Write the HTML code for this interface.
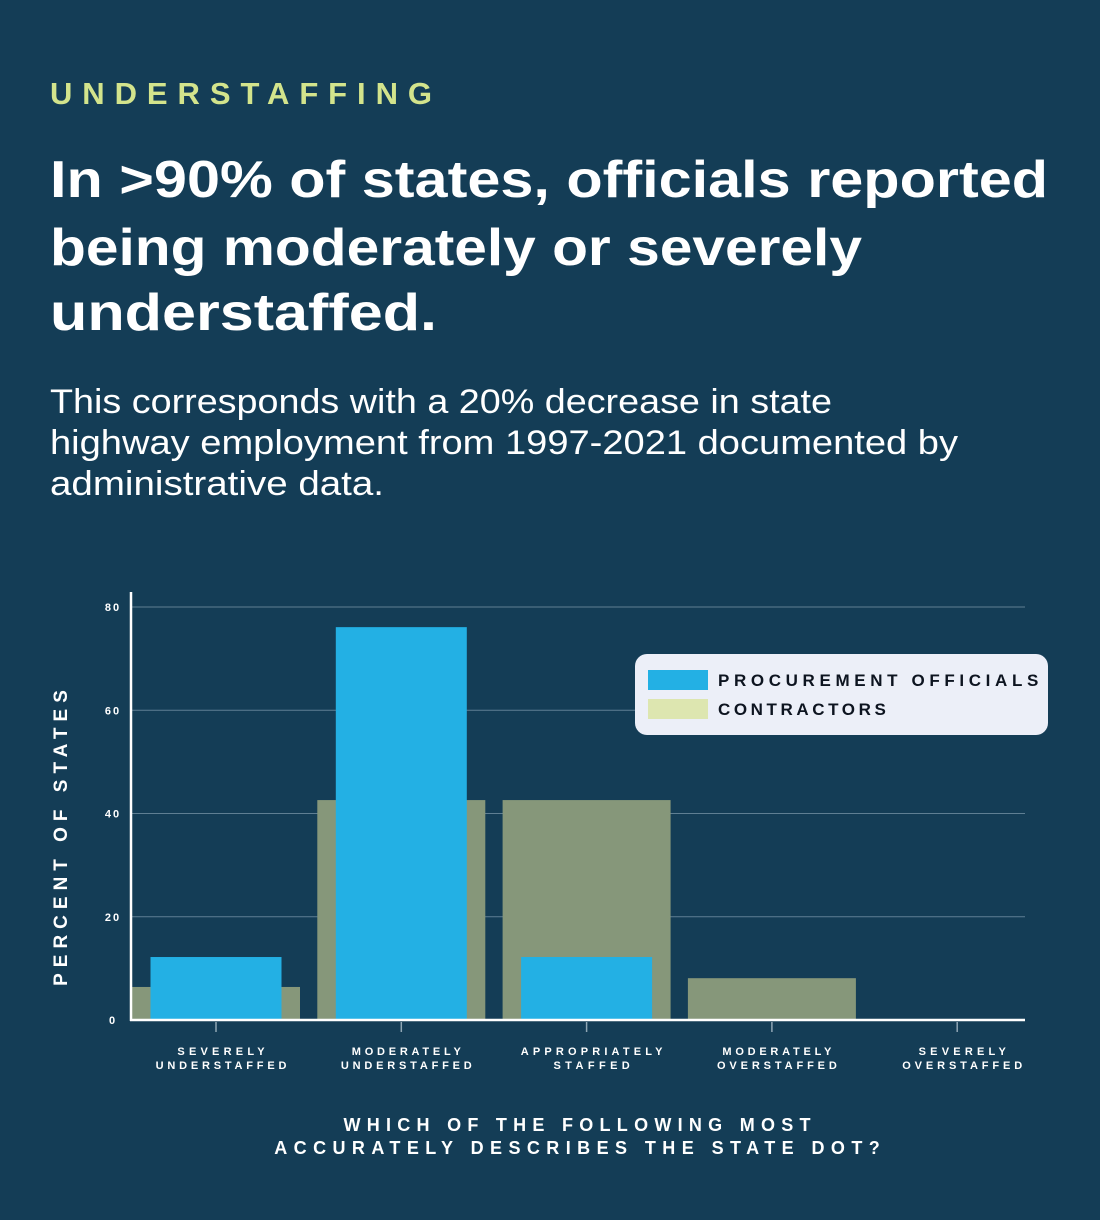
<!DOCTYPE html>
<html><head><meta charset="utf-8"><style>
html,body{margin:0;padding:0;background:#143d56;}
svg{display:block;font-family:"Liberation Sans",sans-serif;}
</style></head><body>
<svg id="chart" width="1100" height="1220" viewBox="0 0 1100 1220">
<rect width="1100" height="1220" fill="#143d56"/>
<text x="50" y="104" font-size="31" font-weight="bold" fill="#d3e48c" textLength="382" lengthAdjust="spacing">UNDERSTAFFING</text>
<g fill="#ffffff" font-weight="bold" font-size="52">
<text x="50" y="197" textLength="998" lengthAdjust="spacingAndGlyphs">In &gt;90% of states, officials reported</text>
<text x="50" y="265" textLength="812" lengthAdjust="spacingAndGlyphs">being moderately or severely</text>
<text x="50" y="330" textLength="387" lengthAdjust="spacingAndGlyphs">understaffed.</text>
</g>
<g fill="#ffffff" font-size="34">
<text x="50" y="413" textLength="782" lengthAdjust="spacingAndGlyphs">This corresponds with a 20% decrease in state</text>
<text x="50" y="454" textLength="908" lengthAdjust="spacingAndGlyphs">highway employment from 1997-2021 documented by</text>
<text x="50" y="495" textLength="334" lengthAdjust="spacingAndGlyphs">administrative data.</text>
</g>
<g id="plot"></g>
</svg>
<script>
const categories=[["SEVERELY","UNDERSTAFFED"],["MODERATELY","UNDERSTAFFED"],["APPROPRIATELY","STAFFED"],["MODERATELY","OVERSTAFFED"],["SEVERELY","OVERSTAFFED"]];
const contractors=[6.4,42.6,42.6,8.1,0];
const procurement=[12.2,76.1,12.2,0,0];
const yTicks=[0,20,40,60,80];
const legendLabels=["PROCUREMENT OFFICIALS","CONTRACTORS"];

const NS="http://www.w3.org/2000/svg";
const g=document.getElementById('plot');
const x0=131,x1=1025,yBase=1020,yTop=607,yMax=80;
const y=v=>yBase-(v/yMax)*(yBase-yTop);
const cx=i=>216+i*185.3;
function mk(tag,attrs,parent){const e=document.createElementNS(NS,tag);for(const k in attrs)e.setAttribute(k,attrs[k]);(parent||g).appendChild(e);return e;}
// approximate char-width helper for fitting wide-tracked labels
function fit(t,pxPerChar){t.setAttribute('textLength',(t.textContent.length*pxPerChar).toFixed(1));t.setAttribute('lengthAdjust','spacing');}

yTicks.forEach(t=>{
  if(t>0){const l=mk('line',{x1:x0,x2:x1,y1:y(t),y2:y(t),stroke:'#5f7f93','stroke-width':1});
  
  }
  const tx=mk('text',{x:113,y:y(t)+4,'font-size':11,'font-weight':'bold',fill:'#fff','text-anchor':'middle','letter-spacing':2});
  tx.textContent=t;
  
  
});
contractors.forEach((v,i)=>{
  if(v<=0)return;
  const r=mk('rect',{x:cx(i)-84,y:y(v),width:168,height:yBase-y(v),fill:'#86977a'});
  
  
});
procurement.forEach((v,i)=>{
  if(v<=0)return;
  const r=mk('rect',{x:cx(i)-65.5,y:y(v),width:131,height:yBase-y(v),fill:'#23b0e4'});
  
  
});
const ya=mk('line',{x1:x0,x2:x0,y1:592,y2:1021,stroke:'#fff','stroke-width':2.5});


const xa=mk('line',{x1:x0-1,x2:x1,y1:yBase,y2:yBase,stroke:'#fff','stroke-width':2.5});


categories.forEach((c,i)=>{
  const tk=mk('line',{x1:cx(i),x2:cx(i),y1:yBase+2,y2:yBase+12,stroke:'#8fa6b4','stroke-width':1.5});
  
  
  c.forEach((s,j)=>{
    const t=mk('text',{x:cx(i)+5,y:1055+j*14,'font-size':11,'font-weight':'bold',fill:'#fff','text-anchor':'middle'});
    t.textContent=s;
    fit(t,10.9);
    
    
  });
});
const yt=mk('text',{transform:'translate(67,838) rotate(-90)','font-size':19,'font-weight':'bold',fill:'#fff','text-anchor':'middle'});
yt.textContent='PERCENT OF STATES';
fit(yt,17.4);


['WHICH OF THE FOLLOWING MOST','ACCURATELY DESCRIBES THE STATE DOT?'].forEach((s,j)=>{
  const t=mk('text',{x:577,y:1131+j*23,'font-size':18,'font-weight':'bold',fill:'#fff','text-anchor':'middle'});
  t.textContent=s;
  fit(t,17.3);
  
  
});
const lg=mk('g',{});


mk('rect',{x:635,y:654,width:413,height:81,rx:12,fill:'#eceff8'},lg);
const sw=['#23b0e4','#dde6b0'];
legendLabels.forEach((s,j)=>{
  const r=mk('rect',{x:648,y:670+j*29,width:60,height:20,fill:sw[j]},lg);
  
  
  const t=mk('text',{x:718,y:686+j*29,'font-size':17,'font-weight':'bold',fill:'#0d1420'},lg);
  t.textContent=s;
  fit(t,15.25);
  
  
});
</script>
</body></html>
